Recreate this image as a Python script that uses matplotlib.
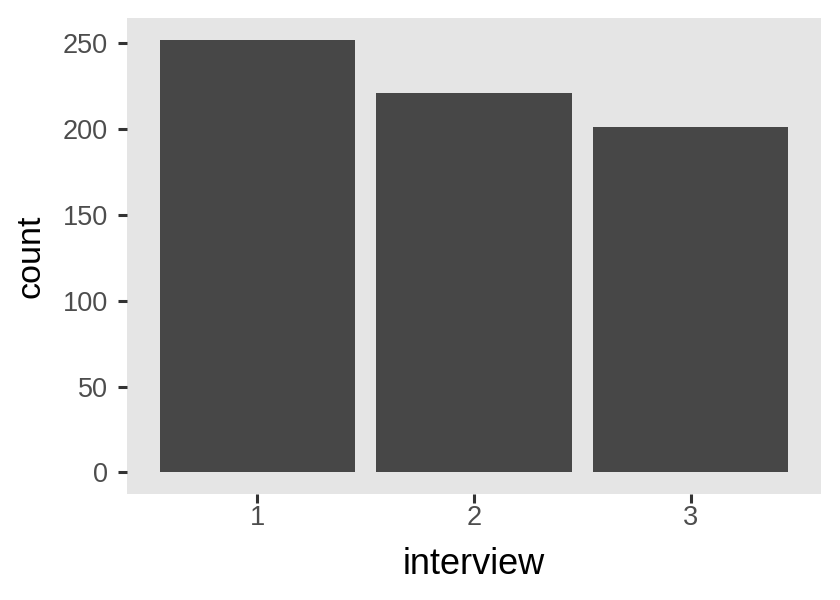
import matplotlib
matplotlib.use("Agg")
import matplotlib.pyplot as plt

categories = ["1", "2", "3"]
counts = [252, 221, 201]
yticks = [0, 50, 100, 150, 200, 250]

plt.rcParams['font.family'] = ['Liberation Sans', 'DejaVu Sans']

fig = plt.figure(figsize=(8.4, 6.0), dpi=100)
ax = fig.add_axes([127/840, 1 - 494/600, (821-127)/840, (494-18)/600])
ax.set_facecolor("#E5E5E5")
x = list(range(1, len(categories) + 1))
ax.bar(x, counts, width=0.9, color="#474747", zorder=2)
ax.set_xlim(0.4, 3.6)
ax.set_ylim(-max(counts) * 0.05, max(counts) * 1.05)
ax.set_xticks(x)
ax.set_xticklabels(categories)
ax.set_yticks(yticks)
for s in ax.spines.values():
    s.set_visible(False)
ax.grid(False)
ax.tick_params(axis="both", length=6.2, width=2.2, color="#333333",
               labelcolor="#4D4D4D", labelsize=19.5)
ax.tick_params(axis="y", pad=7.5)
ax.tick_params(axis="x", pad=1.5)
ax.set_xlabel("interview", fontsize=26, color="black", labelpad=12)
ax.set_ylabel("count", fontsize=24.5, color="black", labelpad=12)
fig.savefig("out.png", dpi=100)
